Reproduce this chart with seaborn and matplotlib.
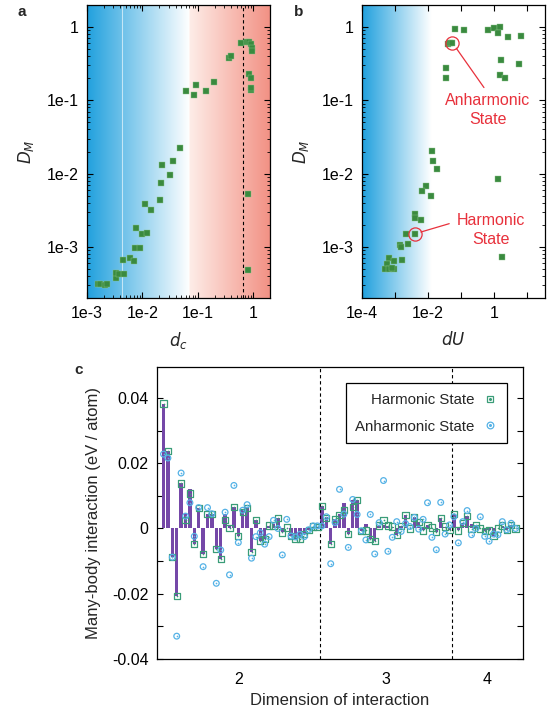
import numpy as np
import matplotlib
matplotlib.use('Agg')
import matplotlib.pyplot as plt
from matplotlib.lines import Line2D
from matplotlib.ticker import FixedLocator, NullFormatter, LogLocator, FixedFormatter
import seaborn as sns

sns.set_theme(style='ticks')
plt.rcParams['font.family'] = ['Liberation Sans', 'DejaVu Sans']
plt.rcParams.update({
    'font.size': 11.5,
    'axes.linewidth': 0.9,
    'axes.edgecolor': 'black',
    'xtick.direction': 'in',
    'ytick.direction': 'in',
    'xtick.color': 'black',
    'ytick.color': 'black',
    'xtick.labelsize': 11.5,
    'ytick.labelsize': 11.5,
    'axes.labelsize': 12,
})

# ---- panel a : D_M vs d_c
a_dc = [1.55e-3, 1.7e-3, 2.1e-3, 2.3e-3, 3.3e-3, 3.3e-3, 3.8e-3, 4.6e-3, 4.5e-3,
        5.9e-3, 7.0e-3, 7.3e-3, 8.9e-3, 7.6e-3, 1.0e-2, 1.2e-2, 1.13e-2, 1.45e-2,
        2.05e-2, 2.2e-2, 2.3e-2, 3.1e-2, 3.5e-2, 4.8e-2, 6.0e-2, 8.6e-2, 9.4e-2,
        0.14, 0.196, 0.37, 0.40, 0.59, 0.76, 0.83, 0.90, 0.93, 0.95, 0.85, 0.89,
        0.89, 0.91, 0.79, 0.79]
a_dm = [3.1e-4, 3.1e-4, 3.0e-4, 3.1e-4, 3.8e-4, 4.4e-4, 4.3e-4, 4.2e-4, 6.7e-4,
        7.0e-4, 6.3e-4, 9.7e-4, 9.5e-4, 1.8e-3, 1.5e-3, 1.55e-3, 3.8e-3, 3.2e-3,
        4.3e-3, 7.4e-3, 1.3e-2, 9.5e-3, 1.5e-2, 2.2e-2, 0.132, 0.12, 0.16,
        0.132, 0.177, 0.38, 0.40, 0.60, 0.63, 0.63, 0.59, 0.51, 0.47, 0.23, 0.20,
        0.137, 0.145, 5.3e-3, 4.8e-4]

# ---- panel b : D_M vs dU
b_du = [0.040, 0.047, 0.055, 0.067, 0.12, 0.036, 0.036, 0.66, 1.0, 1.55, 1.3,
        2.7, 6.7, 1.6, 5.7, 1.55, 2.1, 0.0135, 0.0145, 0.019, 0.0085, 0.0068,
        0.012, 0.0039, 0.0039, 0.006, 0.0039, 0.0021, 0.0024, 0.00146, 0.00152,
        0.0016, 6.4e-4, 5.7e-4, 9.2e-4, 4.9e-4, 6.4e-4, 9.2e-4, 8.0e-4, 1.8, 1.3]
b_dm = [0.59, 0.60, 0.61, 0.94, 0.92, 0.28, 0.20, 0.90, 0.98, 1.0, 0.84,
        0.74, 0.75, 0.36, 0.31, 0.22, 0.20, 0.0205, 0.0147, 0.0115, 0.0067, 0.0058,
        0.0049, 0.0028, 0.0025, 0.0023, 0.0015, 0.0015, 0.0011, 0.00105, 0.0010,
        6.7e-4, 7.0e-4, 5.9e-4, 6.5e-4, 4.9e-4, 5.0e-4, 4.9e-4, 5.1e-4, 7.3e-4, 0.0084]
harm_pt = (0.0039, 0.0015)
anharm_pt = (0.055, 0.61)

# ---- panel c : many-body interaction terms
dims = [2] * 36 + [3] * 30 + [4] * 15
bar_val = [0.0383, 0.0238, -0.0088, -0.0208, 0.0138, 0.0048, 0.0122, -0.0048, 0.0062,
           -0.0078, 0.0045, 0.0045, -0.0062, -0.0093, 0.0045, 0.0012, 0.0066, -0.0022,
           0.0060, 0.0066, -0.0071, 0.0025, -0.0037, -0.0033, 0.0009, 0.0015, 0.0033,
           -0.0012, 0.0003, -0.0023, -0.0032, -0.0030, -0.0016, -0.0004, 0.0006, 0.0004,
           0.0070, 0.0034, -0.0048, 0.0029, 0.0045, 0.0077, -0.0018, 0.0087, 0.0087,
           -0.0007, 0.0013, -0.0031, -0.0039, 0.0009, 0.0012, 0.0009, 0.0006, -0.0019,
           0.0008, 0.0041, 0.0000, 0.0034, 0.0020, -0.0006, 0.0011, 0.0003, -0.0011,
           0.0033, 0.0006, -0.0005,
           0.0045, -0.0006, 0.0018, 0.0038, 0.0015, 0.0010, 0.0000, -0.0007, -0.0006,
           -0.0024, 0.0000, 0.0009, -0.0004, 0.0011, 0.0000]
harm_val = [0.0383, 0.0238, -0.0088, -0.0208, 0.0138, 0.0026, 0.0107, -0.0048, 0.0062,
            -0.0078, 0.0045, 0.0045, -0.0062, -0.0093, 0.0025, 0.0002, 0.0066, -0.0022,
            0.0050, 0.0062, -0.0071, 0.0025, -0.0037, -0.0033, 0.0009, 0.0009, 0.0033,
            -0.0012, 0.0003, -0.0023, -0.0032, -0.0031, -0.0016, -0.0004, 0.0006, 0.0004,
            0.0070, 0.0031, -0.0048, 0.0029, 0.0041, 0.0057, -0.0018, 0.0065, 0.0087,
            -0.0007, -0.0006, -0.0031, -0.0039, 0.0009, 0.0027, 0.0009, 0.0006, -0.0019,
            0.0008, 0.0041, 0.0000, 0.0034, 0.0020, -0.0006, 0.0011, 0.0003, -0.0011,
            0.0033, 0.0006, -0.0005,
            0.0045, -0.0006, 0.0018, 0.0038, -0.0002, 0.0010, 0.0000, -0.0007, -0.0006,
            -0.0024, 0.0000, 0.0009, -0.0004, 0.0011, 0.0000]
anh_val = [0.0228, 0.0216, -0.0088, -0.0330, 0.0170, 0.0038, 0.0079, -0.0024, 0.0064,
           -0.0117, 0.0064, 0.0045, -0.0168, -0.0066, 0.0050, -0.0142, 0.0132, -0.0043,
           0.0056, 0.0073, -0.0091, -0.0025, -0.0013, -0.0048, -0.0025, 0.0025, 0.0000,
           -0.0081, 0.0028, -0.0023, -0.0026, -0.0018, -0.0025, -0.0004, 0.0008, 0.0008,
           0.0008, 0.0036, -0.0108, 0.0018, 0.0120, 0.0044, -0.0058, 0.0089, 0.0043,
           -0.0007, -0.0035, 0.0043, -0.0078, 0.0018, 0.0147, -0.0070, -0.0027, 0.0021,
           -0.0009, 0.0015, 0.0006, 0.0034, -0.0002, 0.0028, 0.0079, -0.0027, -0.0065,
           0.0080, -0.0017, 0.0011,
           0.0036, -0.0044, 0.0021, 0.0055, -0.0019, 0.0000, 0.0036, -0.0024, -0.0039,
           -0.0017, -0.0019, 0.0021, -0.0004, 0.0016, 0.0000]

green = '#3a8a3f'
blue_bg = np.array([0.13, 0.63, 0.87])
red_bg = np.array([0.95, 0.57, 0.52])
purple = '#7548a8'
harm_c = '#3a9d78'
anh_c = '#55b2e6'
red = '#e8313c'

fig = plt.figure(figsize=(5.49, 7.13), dpi=100)
W, H = 549, 713


def rect(l, t, r, b):
    return [l / W, 1 - b / H, (r - l) / W, (b - t) / H]


def gradient(pos, white_at, red_part):
    n = 400
    f = np.linspace(0, 1, n)
    img = np.ones((n, 3))
    m = f < white_at
    t = (f[m] / white_at)[:, None]
    img[m] = blue_bg * (1 - t) + np.ones(3) * t
    if red_part:
        r = ~m
        t = ((f[r] - white_at) / (1 - white_at))[:, None]
        start = np.array([0.995, 0.93, 0.91])
        img[r] = start * (1 - t) + red_bg * t
    bg = fig.add_axes(pos, zorder=0)
    bg.imshow(img[None, :, :], aspect='auto', extent=[0, 1, 0, 1])
    bg.axis('off')


def log_axes(ax):
    ax.set_yscale('log')
    ax.set_xscale('log')
    ax.set_ylim(2e-4, 2)
    ax.yaxis.set_major_locator(FixedLocator([1e-3, 1e-2, 1e-1, 1]))
    ax.yaxis.set_major_formatter(FixedFormatter(['1e-3', '1e-2', '1e-1', '1']))
    ax.yaxis.set_minor_locator(LogLocator(base=10, subs=np.arange(2, 10)))
    ax.yaxis.set_minor_formatter(NullFormatter())
    ax.tick_params(which='both', top=True, right=True)
    ax.tick_params(which='major', length=4.5, width=0.8, pad=6)
    ax.tick_params(which='minor', length=2.5, width=0.6)
    ax.patch.set_alpha(0)
    ax.set_ylabel('$D_M$', labelpad=8)


# panel a
pos_a = rect(87, 5, 270, 298)
gradient(pos_a, 0.56, True)
ax_a = fig.add_axes(pos_a, zorder=1)
sns.scatterplot(x=a_dc, y=a_dm, ax=ax_a, marker='s', color=green, s=17,
                linewidth=0.3, edgecolor='#8cc48c')
log_axes(ax_a)
ax_a.set_xlim(1e-3, 2)
ax_a.xaxis.set_major_locator(FixedLocator([1e-3, 1e-2, 1e-1, 1]))
ax_a.xaxis.set_major_formatter(FixedFormatter(['1e-3', '1e-2', '1e-1', '1']))
ax_a.xaxis.set_minor_locator(LogLocator(base=10, subs=np.arange(2, 10)))
ax_a.xaxis.set_minor_formatter(NullFormatter())
ax_a.axvline(0.0043, color='white', lw=0.8, alpha=0.6, zorder=0.5)
ax_a.axvline(0.65, color='black', lw=0.8, ls=(0, (3, 2.5)), zorder=0.5)
ax_a.set_xlabel('$d_c$', labelpad=6)
fig.text(18 / W, 1 - 16 / H, 'a', fontsize=11, fontweight='bold')

# panel b
pos_b = rect(362, 5, 545, 298)
gradient(pos_b, 0.38, False)
ax_b = fig.add_axes(pos_b, zorder=1)
sns.scatterplot(x=b_du, y=b_dm, ax=ax_b, marker='s', color=green, s=17,
                linewidth=0.3, edgecolor='#8cc48c')
log_axes(ax_b)
ax_b.set_xlim(1e-4, 35)
ax_b.xaxis.set_major_locator(FixedLocator([1e-4, 1e-3, 1e-2, 1e-1, 1, 10]))
ax_b.xaxis.set_major_formatter(FixedFormatter(['1e-4', '', '1e-2', '', '1', '']))
ax_b.xaxis.set_minor_locator(FixedLocator([]))
ax_b.set_xlabel('$dU$', labelpad=6)
for pt in (harm_pt, anharm_pt):
    ax_b.plot(*pt, marker='o', ms=9.5, mfc='none', mec=red, mew=0.9)
ax_b.annotate('Anharmonic\nState', xy=anharm_pt, xytext=(0.65, 0.074),
              ha='center', va='center', color=red, fontsize=11.5, linespacing=1.3,
              arrowprops=dict(arrowstyle='-', color=red, lw=0.9, relpos=(0.5, 1.0),
                              shrinkA=2, shrinkB=4.8))
ax_b.annotate('Harmonic\nState', xy=harm_pt, xytext=(0.79, 0.0017),
              ha='center', va='center', color=red, fontsize=11.5, linespacing=1.3,
              arrowprops=dict(arrowstyle='-', color=red, lw=0.9, relpos=(0.0, 0.75),
                              shrinkA=3, shrinkB=4.8))
fig.text(294 / W, 1 - 16 / H, 'b', fontsize=11, fontweight='bold')

# panel c
ax_c = fig.add_axes(rect(157, 367, 523, 659))
idx = np.arange(len(dims))
sns.barplot(x=idx, y=bar_val, ax=ax_c, native_scale=True, color=purple,
            saturation=1, width=0.75, linewidth=0, errorbar=None)
sns.scatterplot(x=idx, y=harm_val, ax=ax_c, marker='s', color=harm_c,
                facecolor='none', edgecolor=harm_c, s=20, linewidth=0.9, zorder=3)
sns.scatterplot(x=idx, y=harm_val, ax=ax_c, marker='o', color=harm_c,
                edgecolor=harm_c, s=1.5, linewidth=0, zorder=3)
sns.scatterplot(x=idx, y=anh_val, ax=ax_c, marker='o', color=anh_c,
                facecolor='none', edgecolor=anh_c, s=17, linewidth=0.9, zorder=4)
sns.scatterplot(x=idx, y=anh_val, ax=ax_c, marker='o', color=anh_c,
                edgecolor=anh_c, s=1.5, linewidth=0, zorder=4)

dims_arr = np.array(dims)
xmin, xmax = -1.48, 81.7
bounds = [xmin]
for d in sorted(set(dims))[1:]:
    b = np.where(dims_arr == d)[0][0] - 0.5
    bounds.append(b)
    ax_c.axvline(b, color='black', lw=0.8, ls=(0, (3, 2.5)), zorder=1)
bounds.append(xmax)
centers = [(bounds[i] + bounds[i + 1]) / 2 for i in range(len(bounds) - 1)]
ax_c.set_xlim(xmin, xmax)
ax_c.set_xticks(centers)
ax_c.set_xticklabels([str(d) for d in sorted(set(dims))])
ax_c.tick_params(axis='x', length=0, pad=9)
ax_c.set_ylim(-0.04, 0.0495)
ax_c.set_yticks([-0.04, -0.02, 0, 0.02, 0.04])
ax_c.set_yticklabels(['-0.04', '-0.02', '0', '0.02', '0.04'])
ax_c.yaxis.set_minor_locator(FixedLocator([-0.03, -0.01, 0.01, 0.03]))
ax_c.tick_params(axis='y', which='both', right=True)
ax_c.tick_params(axis='y', which='major', length=4.5, width=0.8, pad=6)
ax_c.tick_params(axis='y', which='minor', length=4.5, width=0.8)
ax_c.set_xlabel('Dimension of interaction', labelpad=5)
ax_c.set_ylabel('Many-body interaction (eV / atom)', labelpad=8)

h_harm = (Line2D([], [], ls='none', marker='s', ms=5, mfc='none', mec=harm_c, mew=0.9),
          Line2D([], [], ls='none', marker='o', ms=1.2, color=harm_c))
h_anh = (Line2D([], [], ls='none', marker='o', ms=4.8, mfc='none', mec=anh_c, mew=0.9),
         Line2D([], [], ls='none', marker='o', ms=1.2, color=anh_c))
leg = ax_c.legend([h_harm, h_anh], ['Harmonic State', 'Anharmonic State'],
                  loc='upper right', bbox_to_anchor=(0.956, 0.945), borderaxespad=0,
                  markerfirst=False, fancybox=False, framealpha=1, edgecolor='black',
                  fontsize=10.8, handlelength=1.0, handletextpad=0.5,
                  labelspacing=0.85, borderpad=0.65)
leg.get_frame().set_linewidth(0.9)
fig.text(74 / W, 1 - 374 / H, 'c', fontsize=11, fontweight='bold')

fig.savefig('out.png', dpi=100)
